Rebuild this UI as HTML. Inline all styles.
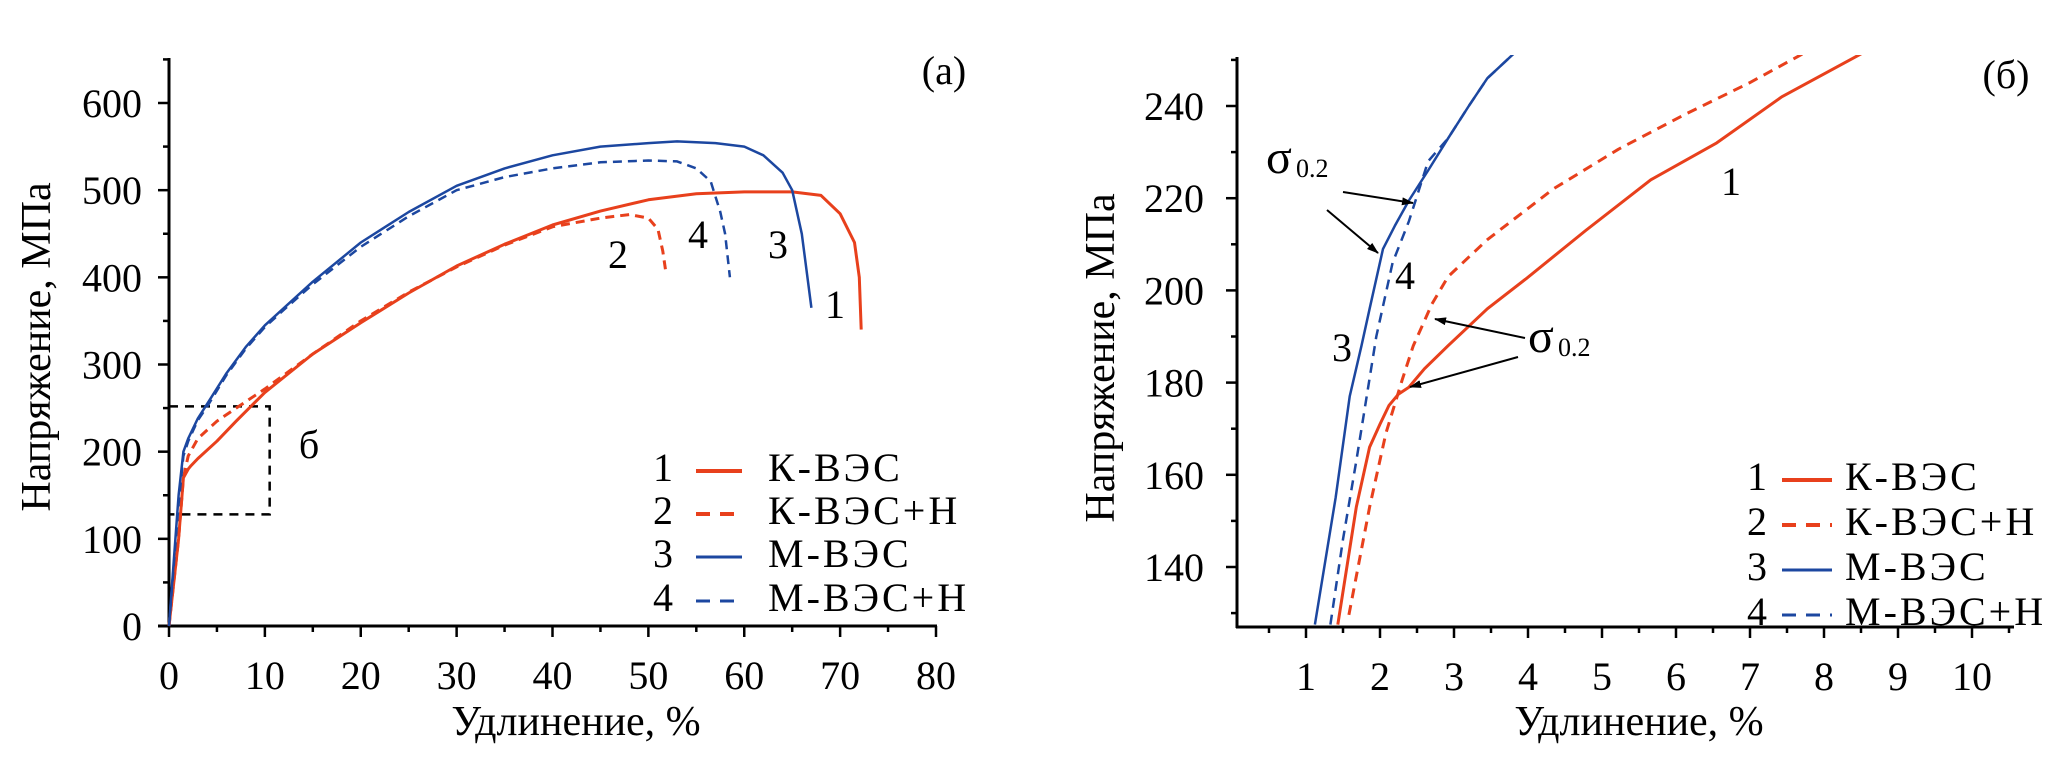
<!DOCTYPE html>
<html><head><meta charset="utf-8"><style>
html,body{margin:0;padding:0;background:#fff;}
svg{display:block;}
svg text{font-family:"Liberation Serif","Times New Roman","DejaVu Serif",serif;}
</style></head><body>
<svg id="chart" width="2054" height="759" viewBox="0 0 2054 759" xmlns="http://www.w3.org/2000/svg" font-family="Liberation Serif, serif"></svg>
<script>
// ---- Panel (a) data ----
const aSeries1X = [0,1,1.5,2,2.3,3,5,7,10,15,20,25,30,35,40,45,50,55,60,65,68,70,71.5,72,72.2];
const aSeries1Y = [0,100,170,180,184,192,212,235,268,312,348,382,413,438,460,476,489,496,498,498,494,473,440,400,340];
const aSeries2X = [0,1,1.5,2,3,5,7,10,15,20,25,30,35,40,45,48,50,51,51.5,51.8];
const aSeries2Y = [0,100,170,195,215,235,250,272,312,350,383,412,437,458,468,472,468,455,430,408];
const aSeries3X = [0,1,1.5,2,3,4,6,8,10,12,15,20,25,30,35,40,45,50,53,57,60,62,64,65,66,67];
const aSeries3Y = [0,150,200,215,238,255,290,320,345,365,395,440,475,505,525,540,550,554,556,554,550,540,520,500,450,365];
const aSeries4X = [0,1,1.5,2,3,4,6,8,10,12,15,20,25,30,35,40,45,50,53,55,56.5,57.5,58,58.5];
const aSeries4Y = [0,140,195,212,236,252,288,318,343,363,392,435,470,500,515,525,532,534,533,525,510,475,450,400];
const aXTicks = [0,10,20,30,40,50,60,70,80];
const aYTicks = [0,100,200,300,400,500,600];
// ---- Panel (б) data ----
const bSeries1X = [1.43,1.68,1.86,2.0,2.12,2.25,2.39,2.6,2.92,3.45,3.98,4.78,5.66,6.55,7.43,8.58];
const bSeries1Y = [127.5,153,166,171,175,177.5,179,183,188,196,202.6,213,224,232,242,252];
const bSeries2X = [1.58,1.86,2.08,2.3,2.45,2.57,2.7,2.92,3.45,4.34,5.22,6.1,6.99,7.79];
const bSeries2Y = [129.6,153,169,180.6,188,192.3,197,203,211,222,230.6,238,245,252];
const bSeries3X = [1.12,1.4,1.59,1.75,1.86,2.04,2.2,2.39,2.65,2.92,3.2,3.45,3.85];
const bSeries3Y = [127.5,155,177,188,196,209,214,219.5,226,233,240,246,252];
const bSeries4X = [1.33,1.5,1.68,1.82,1.95,2.17,2.39,2.65,2.92,3.2,3.45,3.85];
const bSeries4Y = [127.5,146,163,177,190,206,215,228,233,240,246,252];
const bXTicks = [1,2,3,4,5,6,7,8,9,10];
const bYTicks = [140,160,180,200,220,240];
const legendLabels = ["К-ВЭС","К-ВЭС+Н","М-ВЭС","М-ВЭС+Н"];

const NS="http://www.w3.org/2000/svg";
const svg=document.getElementById('chart');
const RED="#e8401c", BLUE="#1c47a0";
const FONT='"Liberation Serif", "Times New Roman", "DejaVu Serif", serif';
function mk(tag,attrs,parent){const e=document.createElementNS(NS,tag);for(const k in attrs)e.setAttribute(k,attrs[k]);(parent||svg).appendChild(e);return e;}
function txt(x,y,s,size,anchor,parent){const t=mk('text',{x:x,y:y,'font-size':size,'text-anchor':anchor||'start',fill:'#000'},parent);t.style.fontFamily=FONT;t.textContent=s;return t;}

const ax=v=>169+v*(767/80), ay=v=>626-v*(523/600);
const bx=v=>1232+v*74, by=v=>567-(v-140)*4.61;

// ---- Panel a ----
const gA=mk('g',{});


mk('line',{x1:169,y1:58,x2:169,y2:627,stroke:'#000','stroke-width':3},gA);
mk('line',{x1:158,y1:626,x2:937,y2:626,stroke:'#000','stroke-width':3},gA);
for(let v=0;v<=80;v+=5){const major=v%10===0;mk('line',{x1:ax(v),y1:626,x2:ax(v),y2:626+(major?11:6),stroke:'#000','stroke-width':2.5},gA);}
for(let v=0;v<=650;v+=50){const major=v%100===0;mk('line',{x1:169,y1:ay(v),x2:169-(major?11:6),y2:ay(v),stroke:'#000','stroke-width':2.5},gA);}
aXTicks.forEach(v=>{const t=txt(ax(v),689,String(v),40,'middle',gA);});
aYTicks.forEach(v=>{const t=txt(142,ay(v)+14,String(v),40,'end',gA);});
let t=txt(576,735,'Удлинение, %',42,'middle',gA);
t=txt(0,0,'Напряжение, МПа',42,'middle',gA);t.setAttribute('transform','translate(50,347) rotate(-90)');
t=txt(944,84,'(а)',40,'middle',gA);
const box=mk('rect',{x:ax(0),y:ay(252),width:ax(10.5)-ax(0),height:ay(128)-ay(252),fill:'none',stroke:'#000','stroke-width':2.5,'stroke-dasharray':'9,7'},gA);

t=txt(309,458,'б',40,'middle',gA);

function path(xs,ys,fx,fy,color,w,dash,parent,name,clip){
  let d='';xs.forEach((x,i)=>{d+=(i?'L':'M')+fx(x).toFixed(1)+','+fy(ys[i]).toFixed(1);});
  const p=mk('path',{d:d,fill:'none',stroke:color,'stroke-width':w,'stroke-linejoin':'round'},parent);
  if(dash)p.setAttribute('stroke-dasharray',dash);
  if(clip)p.setAttribute('clip-path',clip);
  
  
  return p;
}
path(aSeries1X,aSeries1Y,ax,ay,RED,3,null,gA,'a-series-k-ves');
path(aSeries2X,aSeries2Y,ax,ay,RED,3,'9,6',gA,'a-series-k-ves-h');
path(aSeries3X,aSeries3Y,ax,ay,BLUE,2.5,null,gA,'a-series-m-ves');
path(aSeries4X,aSeries4Y,ax,ay,BLUE,2.5,'9,6',gA,'a-series-m-ves-h');
[['2',618,268],['4',698,248],['3',778,258],['1',835,318]].forEach(a=>{const e=txt(a[1],a[2],a[0],40,'middle',gA);});

function legend(parent,nx,lx1,lx2,tx,bases,prefix){
  const cols=[RED,RED,BLUE,BLUE],dashes=[null,'14,10',null,'14,10'],ws=[4,4,3,3];
  legendLabels.forEach((lab,i)=>{
    const g=mk('g',{},parent);
    
    
    txt(nx,bases[i],String(i+1),40,'middle',g);
    const l=mk('line',{x1:lx1,y1:bases[i]-10,x2:lx2,y2:bases[i]-10,stroke:cols[i],'stroke-width':ws[i]},g);
    if(dashes[i])l.setAttribute('stroke-dasharray',dashes[i]);
    const e=txt(tx,bases[i],lab,40,'start',g);e.setAttribute('letter-spacing','3');
  });
}
legend(gA,663,696,742,768,[481,524,567,611],'a');

// ---- Panel b ----
const gB=mk('g',{});


const cp=mk('clipPath',{id:'cb'},gB);
mk('rect',{x:1237,y:55,width:780,height:572},cp);
mk('line',{x1:1237,y1:57,x2:1237,y2:628,stroke:'#000','stroke-width':3},gB);
mk('line',{x1:1236,y1:627,x2:2014,y2:627,stroke:'#000','stroke-width':3},gB);
for(let v=0.5;v<=10.5;v+=0.5){const major=Math.abs(v-Math.round(v))<0.01;mk('line',{x1:bx(v),y1:627,x2:bx(v),y2:627+(major?11:6),stroke:'#000','stroke-width':2.5},gB);}
for(let v=130;v<=250;v+=10){const major=v%20===0;mk('line',{x1:1237,y1:by(v),x2:1237-(major?11:6),y2:by(v),stroke:'#000','stroke-width':2.5},gB);}
bXTicks.forEach(v=>{const e=txt(bx(v),690,String(v),40,'middle',gB);});
bYTicks.forEach(v=>{const e=txt(1204,by(v)+14,String(v),40,'end',gB);});
t=txt(1639,735,'Удлинение, %',42,'middle',gB);
t=txt(0,0,'Напряжение, МПа',42,'middle',gB);t.setAttribute('transform','translate(1114,358) rotate(-90)');
t=txt(2006,88,'(б)',40,'middle',gB);
path(bSeries1X,bSeries1Y,bx,by,RED,3,null,gB,'b-series-k-ves','url(#cb)');
path(bSeries2X,bSeries2Y,bx,by,RED,3,'10,7',gB,'b-series-k-ves-h','url(#cb)');
path(bSeries3X,bSeries3Y,bx,by,BLUE,2.5,null,gB,'b-series-m-ves','url(#cb)');
path(bSeries4X,bSeries4Y,bx,by,BLUE,2.5,'10,7',gB,'b-series-m-ves-h','url(#cb)');
[['1',1731,195],['4',1405,289],['3',1342,361]].forEach(a=>{const e=txt(a[1],a[2],a[0],40,'middle',gB);});
function sigma(x,y,name){const g=mk('g',{},gB);
  txt(x,y,'σ',48,'start',g);txt(x+30,y+4,'0.2',26,'start',g);}
sigma(1266,173,'sigma-label-blue');
sigma(1528,352,'sigma-label-red');
const defs=mk('defs',{},gB);
const mkr=mk('marker',{id:'ah',markerWidth:12,markerHeight:8,refX:11,refY:4,orient:'auto',markerUnits:'userSpaceOnUse'},defs);
mk('path',{d:'M0,0 L12,4 L0,8 z',fill:'#000'},mkr);
[[1343,192,1413,203],[1327,210,1378,253],[1525,338,1435,319],[1518,357,1410,387]].forEach(a=>{
  const l=mk('line',{x1:a[0],y1:a[1],x2:a[2],y2:a[3],stroke:'#000','stroke-width':2,'marker-end':'url(#ah)'},gB);
  
});
legend(gB,1757,1782,1832,1845,[490,535,580,625],'b');
</script>
</body></html>
